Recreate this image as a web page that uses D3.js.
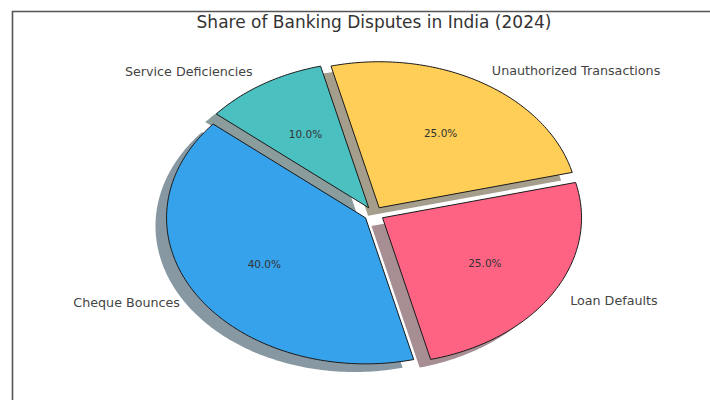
<!DOCTYPE html>
<html>
<head>
<meta charset="utf-8">
<script src="https://cdn.jsdelivr.net/npm/d3@7"></script>
<style>
  html, body { margin: 0; padding: 0; background: #fff; }
  svg { display: block; }
  text { font-family: "DejaVu Sans", sans-serif; }
</style>
</head>
<body>
<svg id="chart" width="710" height="400"></svg>
<script>
// Dispute categories, in drawing order (counter-clockwise from the start angle)
const categories = ["Cheque Bounces", "Loan Defaults", "Unauthorized Transactions", "Service Deficiencies"];
const shares = [40, 25, 25, 10];
const colors = ["#36A2EB", "#FF6384", "#FFCE56", "#4BC0C0"];
const explode = [0.05, 0.05, 0.05, 0.05];
const title = "Share of Banking Disputes in India (2024)";

const W = 710, H = 400;
const cx = 374, cy = 214, rx = 199, ry = 146;
const startDeg = 140;           // first wedge starts here, measured CCW from 3 o'clock
const shadowOffset = [-0.0556, -0.0556];

const svg = d3.select("#chart");

// data-space scales: unit pie radius maps to the ellipse radii
const x = d3.scaleLinear().domain([-1, 1]).range([cx - rx, cx + rx]);
const y = d3.scaleLinear().domain([-1, 1]).range([cy + ry, cy - ry]);

// frame lines along the top and left edges
svg.append("path")
  .attr("d", `M12.5,${H} L12.5,11.5 L${W},11.5`)
  .attr("fill", "none")
  .attr("stroke", "#555")
  .attr("stroke-width", 1.6);

// wedge angles (radians, counter-clockwise, math convention)
const total = d3.sum(shares);
let acc = startDeg * Math.PI / 180;
const wedges = shares.map((v, i) => {
  const a0 = acc;
  const a1 = acc + v / total * 2 * Math.PI;
  acc = a1;
  const mid = (a0 + a1) / 2;
  const ox = explode[i] * Math.cos(mid);
  const oy = explode[i] * Math.sin(mid);
  return { i, label: categories[i], value: v, color: colors[i], a0, a1, mid, ox, oy };
});

function wedgePoints(w, dx, dy) {
  const n = Math.max(8, Math.ceil((w.a1 - w.a0) / (Math.PI / 180)));
  const pts = [[w.ox + dx, w.oy + dy]];
  d3.range(n + 1).forEach(k => {
    const a = w.a0 + (w.a1 - w.a0) * k / n;
    pts.push([w.ox + dx + Math.cos(a), w.oy + dy + Math.sin(a)]);
  });
  return pts;
}

const line = d3.line().x(p => x(p[0])).y(p => y(p[1])).curve(d3.curveLinearClosed);

// shadows sit beneath every wedge
svg.append("g").selectAll("path")
  .data(wedges)
  .join("path")
  .attr("d", w => line(wedgePoints(w, shadowOffset[0], shadowOffset[1])))
  .attr("fill", w => {
    const c = d3.rgb(w.color);
    return d3.rgb(c.r * 0.3, c.g * 0.3, c.b * 0.3).toString();
  })
  .attr("fill-opacity", 0.5);

svg.append("g").selectAll("path")
  .data(wedges)
  .join("path")
  .attr("d", w => line(wedgePoints(w, 0, 0)))
  .attr("fill", w => w.color)
  .attr("stroke", "#1a1a1a")
  .attr("stroke-width", 1)
  .attr("stroke-linejoin", "miter");

// outer category labels
svg.append("g").selectAll("text")
  .data(wedges)
  .join("text")
  .attr("x", w => x(w.ox + 1.1 * Math.cos(w.mid)))
  .attr("y", w => y(w.oy + 1.1 * Math.sin(w.mid)))
  .attr("text-anchor", w => Math.cos(w.mid) < 0 ? "end" : "start")
  .attr("dominant-baseline", "central")
  .attr("font-size", 12.7)
  .attr("fill", "#444")
  .text(w => w.label);

// percentage labels inside each wedge
svg.append("g").selectAll("text")
  .data(wedges)
  .join("text")
  .attr("x", w => x(w.ox + 0.6 * Math.cos(w.mid)))
  .attr("y", w => y(w.oy + 0.6 * Math.sin(w.mid)))
  .attr("text-anchor", "middle")
  .attr("dominant-baseline", "central")
  .attr("font-size", 10.5)
  .attr("fill", "#333")
  .text(w => (w.value / total * 100).toFixed(1) + "%");

svg.append("text")
  .attr("x", 374)
  .attr("y", 21.5)
  .attr("text-anchor", "middle")
  .attr("dominant-baseline", "central")
  .attr("font-size", 17)
  .attr("fill", "#333")
  .text(title);
</script>
</body>
</html>
